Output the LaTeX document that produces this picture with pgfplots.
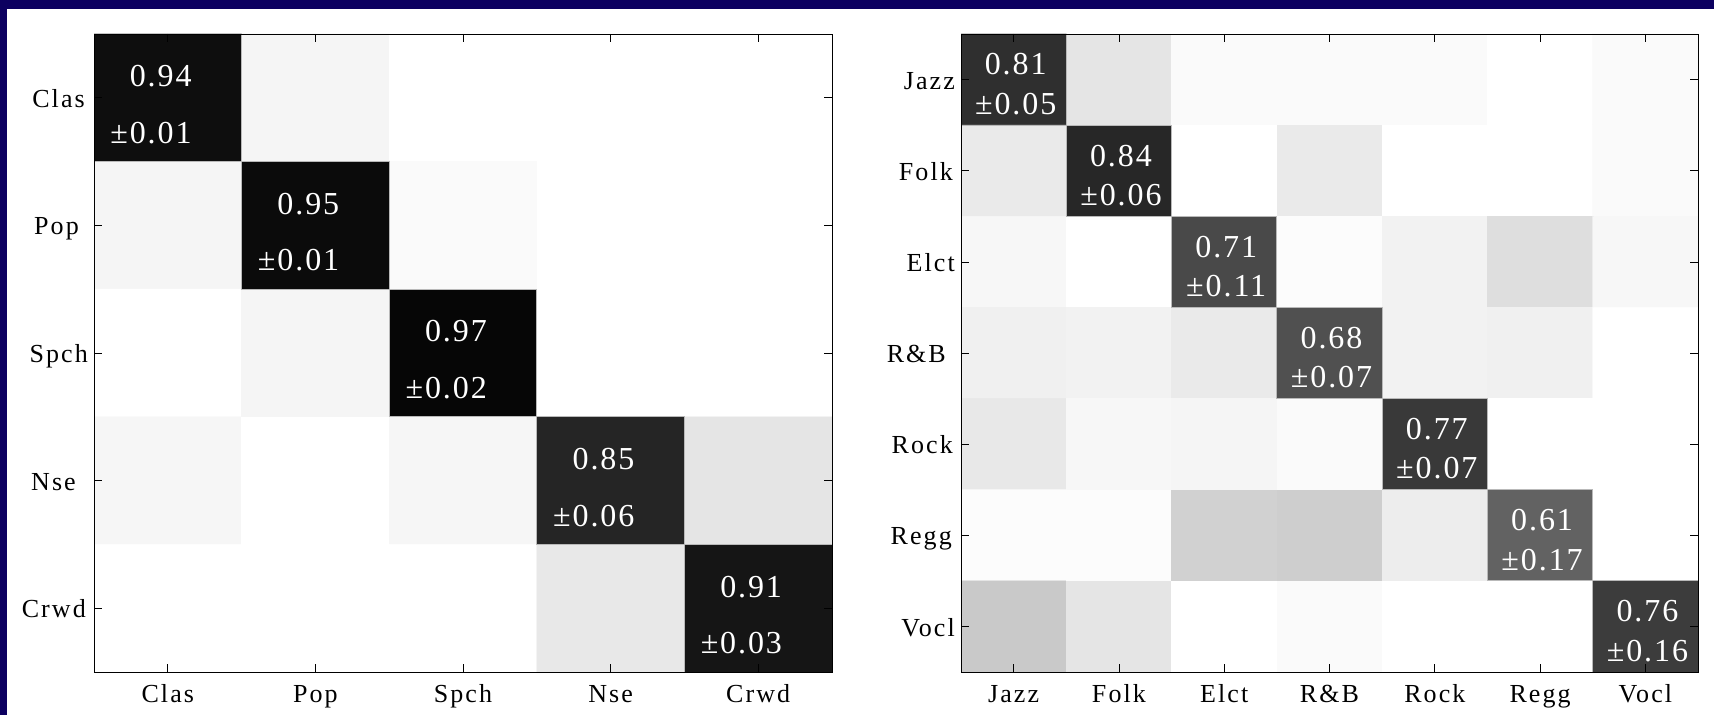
\documentclass[border=0pt]{standalone}
\usepackage{fontspec}
\setmainfont{Liberation Serif}
\newfontfamily\tickfam[LetterSpace=8]{Liberation Serif}
\newfontfamily\cellfam[LetterSpace=6]{Liberation Serif}
\usepackage{pgfplots}
\usepackage{pgfplotstable}
\pgfplotsset{compat=1.18}
\definecolor{navybg}{RGB}{12,0,96}
\newcommand\tickfont{\tickfam\fontsize{26bp}{30bp}\selectfont}
\newcommand\cellfont{\cellfam\fontsize{32bp}{38bp}\selectfont}

\pgfplotstableread{
x y c
0 0 0.94
1 0 0.04
2 0 0
3 0 0
4 0 0
0 1 0.04
1 1 0.95
2 1 0.02
3 1 0
4 1 0
0 2 0
1 2 0.04
2 2 0.97
3 2 0
4 2 0
0 3 0.035
1 3 0
2 3 0.035
3 3 0.85
4 3 0.10
0 4 0
1 4 0
2 4 0
3 4 0.09
4 4 0.91
}\leftdata

\pgfplotstableread{
x y c
0 0 0.81
1 0 0.10
2 0 0.02
3 0 0.02
4 0 0.02
5 0 0
6 0 0.02
0 1 0.08
1 1 0.84
2 1 0
3 1 0.08
4 1 0
5 1 0
6 1 0.02
0 2 0.03
1 2 0
2 2 0.71
3 2 0.01
4 2 0.05
5 2 0.13
6 2 0.03
0 3 0.06
1 3 0.05
2 3 0.08
3 3 0.68
4 3 0.05
5 3 0.06
6 3 0
0 4 0.09
1 4 0.03
2 4 0.04
3 4 0.02
4 4 0.77
5 4 0
6 4 0
0 5 0.01
1 5 0.01
2 5 0.18
3 5 0.19
4 5 0.07
5 5 0.61
6 5 0
0 6 0.21
1 6 0.10
2 6 0
3 6 0.02
4 6 0
5 6 0
6 6 0.76
}\rightdata

\pgfplotsset{
  cmstyle/.style={
    anchor=south west, scale only axis,
    y dir=reverse,
    tick align=inside, major tick length=8bp,
    xtick pos=both, ytick pos=both,
    tick style={black, line width=0.7bp},
    axis line style={black, line width=0.9bp},
    colormap={bw}{rgb255=(255,255,255) rgb255=(0,0,0)},
    point meta min=0, point meta max=1,
    xticklabel style={font=\tickfont, anchor=base, yshift=-30bp, inner sep=0pt},
    yticklabel style={font=\tickfont, anchor=base east, xshift=-6bp, yshift=-9.6bp, inner sep=0pt},
    axis on top,
  }
}

% left plot: right-aligned two-line labels
\newcommand\lcell[3]{%
  \draw[gray!55, line width=0.8bp] (axis cs:#1-0.5,#1-0.5) rectangle (axis cs:#1+0.5,#1+0.5);
  \node[anchor=base east, text=white, font=\cellfont, inner sep=0pt, xshift=24bp, yshift=11bp] at (axis cs:#1,#1) {#2};
  \node[anchor=base east, text=white, font=\cellfont, inner sep=0pt, xshift=24bp, yshift=-45.6bp] at (axis cs:#1,#1) {±#3};
}
% right plot: centred two-line labels
\newcommand\rcell[3]{%
  \draw[gray!55, line width=0.8bp] (axis cs:#1-0.5,#1-0.5) rectangle (axis cs:#1+0.5,#1+0.5);
  \node[anchor=base, text=white, font=\cellfont, inner sep=0pt, xshift=2bp, yshift=4.7bp] at (axis cs:#1,#1) {#2};
  \node[anchor=base, text=white, font=\cellfont, inner sep=0pt, xshift=2bp, yshift=-34.8bp] at (axis cs:#1,#1) {±#3};
}

\begin{document}
\begin{tikzpicture}[x=1bp,y=1bp]
\useasboundingbox (0,0) rectangle (1714,715);
\fill[navybg] (0,0) rectangle (1714,715);
\fill[white] (7,0) rectangle (1714,706);

\begin{axis}[cmstyle,
  at={(94bp,43bp)}, width=738bp, height=638bp,
  xmin=-0.5, xmax=4.5, ymin=-0.5, ymax=4.5,
  xtick={0,1,2,3,4}, ytick={0,1,2,3,4},
  xticklabels={Clas,Pop,Spch,Nse,Crwd},
  yticklabels={{Clas\kern3bp},{Pop\kern9bp},Spch,{Nse\kern12bp},{Crwd\kern2bp}},
]
\addplot[matrix plot*, mesh/cols=5, point meta=explicit] table[x=x, y=y, meta=c] {\leftdata};
\lcell{0}{0.94}{0.01}
\lcell{1}{0.95}{0.01}
\lcell{2}{0.97}{0.02}
\lcell{3}{0.85}{0.06}
\lcell{4}{0.91}{0.03}
\end{axis}

\begin{axis}[cmstyle,
  at={(961bp,43bp)}, width=737bp, height=638bp,
  xmin=-0.5, xmax=6.5, ymin=-0.5, ymax=6.5,
  xtick={0,1,2,3,4,5,6}, ytick={0,1,2,3,4,5,6},
  xticklabels={Jazz,Folk,Elct,R\&B,Rock,Regg,Vocl},
  yticklabels={Jazz,{Folk\kern2bp},Elct,{R\&B\kern9bp},{Rock\kern2bp},{Regg\kern3bp},Vocl},
]
\addplot[matrix plot*, mesh/cols=7, point meta=explicit] table[x=x, y=y, meta=c] {\rightdata};
\rcell{0}{0.81}{0.05}
\rcell{1}{0.84}{0.06}
\rcell{2}{0.71}{0.11}
\rcell{3}{0.68}{0.07}
\rcell{4}{0.77}{0.07}
\rcell{5}{0.61}{0.17}
\rcell{6}{0.76}{0.16}
\end{axis}
\end{tikzpicture}
\end{document}
